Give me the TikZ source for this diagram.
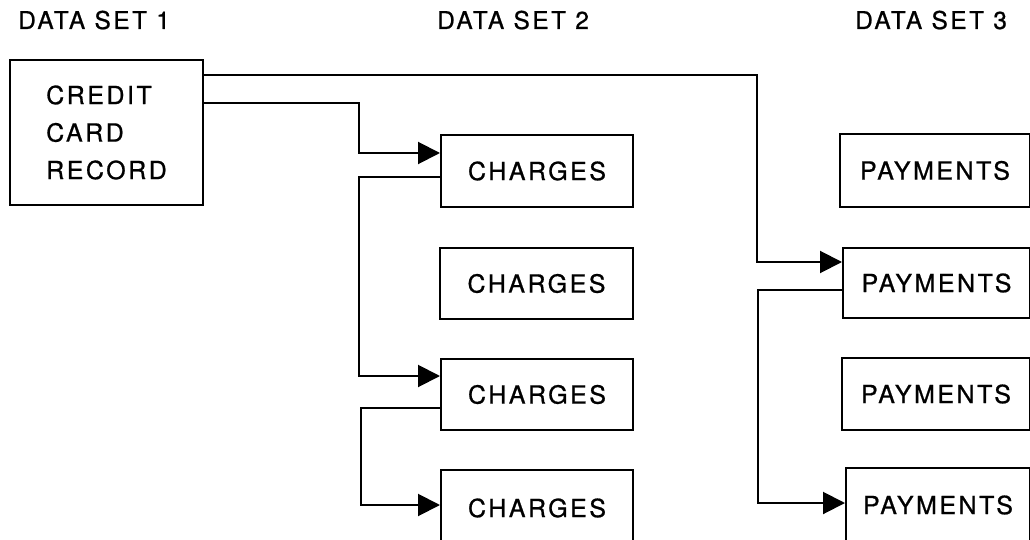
\documentclass[tikz,border=0pt]{standalone}
\usepackage{fontspec}
\setmainfont{TeX Gyre Heros}[LetterSpace=10,FakeBold=0.8]
\usetikzlibrary{arrows.meta}
\begin{document}
\begin{tikzpicture}[x=1pt,y=-1pt,
  box/.style={draw,line width=2pt,anchor=north west,inner sep=0pt,
    font=\fontsize{25}{37.5}\selectfont},
  head/.style={anchor=base west,inner sep=0pt,font=\fontsize{24.5}{28}\selectfont},
  wire/.style={line width=2pt},
  arr/.style={wire,-{Triangle[length=22pt,width=22pt]}}]
\useasboundingbox (0,0) rectangle (1030,540);

\node[head] (h1) at (18,29) {DATA SET 1};
\node[head] (h2) at (437,29) {DATA SET 2};
\node[head] (h3) at (855,29) {DATA SET 3};

\node[box,minimum width=193pt,minimum height=145pt,align=left] (credit) at (9,59) {CREDIT\\CARD\\RECORD};

\node[box,minimum width=192pt,minimum height=72pt] (ch1) at (440,134) {CHARGES};
\node[box,minimum width=193pt,minimum height=71pt] (ch2) at (439,247) {CHARGES};
\node[box,minimum width=192pt,minimum height=71pt] (ch3) at (440,358) {CHARGES};
\node[box,minimum width=192pt,minimum height=76pt] (ch4) at (440,469) {CHARGES};

\node[box,minimum width=190pt,minimum height=73pt] (pay1) at (839,133) {PAYMENTS};
\node[box,minimum width=187pt,minimum height=70pt] (pay2) at (842,247) {PAYMENTS};
\node[box,minimum width=188pt,minimum height=72pt] (pay3) at (841,357) {PAYMENTS};
\node[box,minimum width=184pt,minimum height=74pt] (pay4) at (845,467) {PAYMENTS};

\coordinate (k1) at (757,75);  \coordinate (k1e) at (757,262);
\coordinate (k2) at (359,103); \coordinate (k2e) at (359,153);
\coordinate (k3) at (359,177); \coordinate (k3e) at (359,376);
\coordinate (k4) at (361,408); \coordinate (k4e) at (361,505);
\coordinate (k5) at (758,290); \coordinate (k5e) at (758,503);

\draw[arr] (credit.east |- k1) -- (k1) -- (k1e) -- (pay2.west |- k1e);
\draw[arr] (credit.east |- k2) -- (k2) -- (k2e) -- (ch1.west |- k2e);
\draw[arr] (ch1.west |- k3) -- (k3) -- (k3e) -- (ch3.west |- k3e);
\draw[arr] (ch3.west |- k4) -- (k4) -- (k4e) -- (ch4.west |- k4e);
\draw[arr] (pay2.west |- k5) -- (k5) -- (k5e) -- (pay4.west |- k5e);
\end{tikzpicture}
\end{document}
